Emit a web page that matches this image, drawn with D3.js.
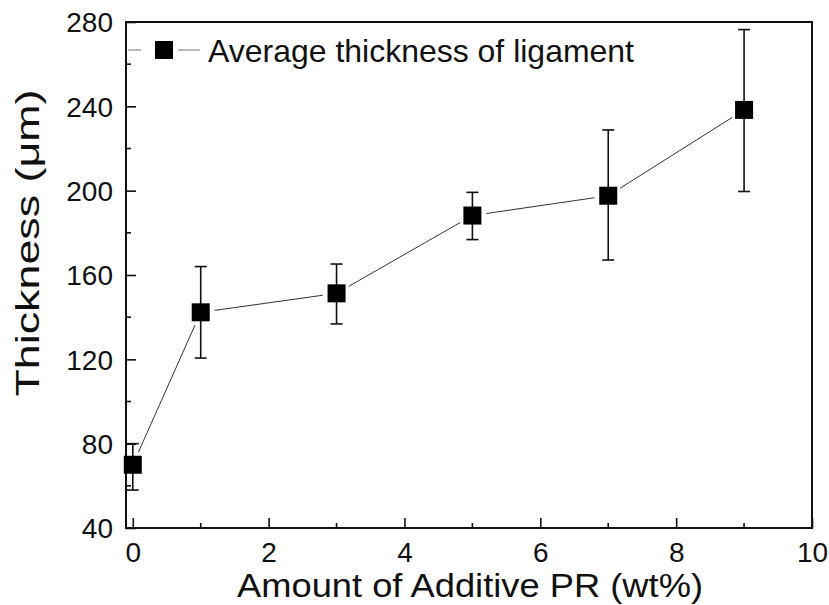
<!DOCTYPE html>
<html>
<head>
<meta charset="utf-8">
<script src="https://cdn.jsdelivr.net/npm/d3@7"></script>
<style>
  body { margin: 0; background: #fff; }
  text { font-family: "Liberation Sans", Arial, sans-serif; fill: #111; }
</style>
</head>
<body>
<svg id="chart" width="829" height="605"></svg>
<script>
// data
const additive = [0, 1, 3, 5, 7, 9];
const thickness = [70, 142.3, 151.3, 188.2, 197.6, 238.3];
const errTop = [80, 164, 165.2, 199.2, 228.8, 276.4];
const errBottom = [58, 120.6, 136.8, 176.8, 167.1, 199.6];
const xTicks = [0, 2, 4, 6, 8, 10];
const yTicks = [40, 80, 120, 160, 200, 240, 280];
const seriesName = 'Average thickness of ligament';

const svg = d3.select('#chart');
const m = {left: 126, right: 812, top: 22, bottom: 528};

const x = d3.scaleLinear().domain([-0.1, 10]).range([m.left, m.right]);
const y = d3.scaleLinear().domain([40, 280]).range([m.bottom, m.top]);

// ticks inward
const gx = svg.append('g').attr('transform', `translate(0,${m.bottom})`);
gx.call(d3.axisBottom(x).tickValues(xTicks).tickSizeInner(-10).tickSizeOuter(0))
gx.select('.domain').remove();
gx.selectAll('.tick line').attr('stroke', '#111').attr('stroke-width', 1.6);
gx.selectAll('.tick text').attr('font-size', 28).attr('dy', null).attr('y', 34);
gx.selectAll('.minor').data(d3.range(1, 10, 2)).enter().append('line')
    .attr('x1', d => x(d)).attr('x2', d => x(d)).attr('y1', 0).attr('y2', -5)
    .attr('stroke', '#111').attr('stroke-width', 1.6);

const gy = svg.append('g').attr('transform', `translate(${m.left},0)`);
gy.call(d3.axisLeft(y).tickValues(yTicks).tickSizeInner(-10).tickSizeOuter(0))
gy.select('.domain').remove();
gy.selectAll('.tick line').attr('stroke', '#111').attr('stroke-width', 1.6);
gy.selectAll('.tick text').attr('font-size', 28).attr('x', -13).attr('dy', '0.35em');
gy.selectAll('.minor').data(d3.range(60, 280, 40)).enter().append('line')
    .attr('y1', d => y(d)).attr('y2', d => y(d)).attr('x1', 0).attr('x2', 5)
    .attr('stroke', '#111').attr('stroke-width', 1.6);

// frame
svg.append('rect')
    .attr('x', m.left).attr('y', m.top)
    .attr('width', m.right - m.left).attr('height', m.bottom - m.top)
    .attr('fill', 'none').attr('stroke', '#111').attr('stroke-width', 2);

// connecting line with gap to symbols
const pts = additive.map((d, i) => [x(d), y(thickness[i])]);
const gap = 14;
const segs = d3.pairs(pts).map(([a, b]) => {
    let dx = b[0] - a[0], dy = b[1] - a[1], L = Math.hypot(dx, dy);
    return [a[0] + dx / L * gap, a[1] + dy / L * gap, b[0] - dx / L * gap, b[1] - dy / L * gap];
});
svg.append('g').selectAll('line').data(segs).enter().append('line')
    .attr('x1', d => d[0]).attr('y1', d => d[1]).attr('x2', d => d[2]).attr('y2', d => d[3])
    .attr('stroke', '#333').attr('stroke-width', 1);

// error bars
const eb = svg.append('g').attr('stroke', '#111').attr('stroke-width', 1.6);
additive.forEach((d, i) => {
    eb.append('line').attr('x1', x(d)).attr('x2', x(d)).attr('y1', y(errTop[i])).attr('y2', y(errBottom[i]));
    [errTop[i], errBottom[i]].forEach(v => {
        eb.append('line').attr('x1', x(d) - 6).attr('x2', x(d) + 6).attr('y1', y(v)).attr('y2', y(v));
    });
});

// symbols
const s = 18;
svg.append('g').selectAll('rect').data(additive).enter().append('rect')
    .attr('x', d => x(d) - s / 2).attr('y', (d, i) => y(thickness[i]) - s / 2)
    .attr('width', s).attr('height', s).attr('fill', '#000');

// legend
const lg = svg.append('g').attr('transform', 'translate(0,50)');
lg.append('line').attr('x1', 128).attr('x2', 141).attr('y1', 0).attr('y2', 0).attr('stroke', '#777').attr('stroke-width', 1);
lg.append('line').attr('x1', 178).attr('x2', 200).attr('y1', 0).attr('y2', 0).attr('stroke', '#777').attr('stroke-width', 1);
lg.append('rect').attr('x', 155).attr('y', -9).attr('width', s).attr('height', s).attr('fill', '#000');
lg.append('text').attr('x', 208).attr('y', 12).attr('font-size', 32)
    .attr('textLength', 426).attr('lengthAdjust', 'spacingAndGlyphs').text(seriesName);

// axis titles
svg.append('text').attr('x', 470).attr('y', 597)
    .attr('text-anchor', 'middle').attr('font-size', 33)
    .attr('textLength', 466).attr('lengthAdjust', 'spacingAndGlyphs').text('Amount of Additive PR (wt%)');
svg.append('text').attr('transform', 'translate(39,243) rotate(-90)')
    .attr('text-anchor', 'middle').attr('font-size', 34)
    .attr('textLength', 307).attr('lengthAdjust', 'spacingAndGlyphs').text('Thickness (μm)');
</script>
</body>
</html>
